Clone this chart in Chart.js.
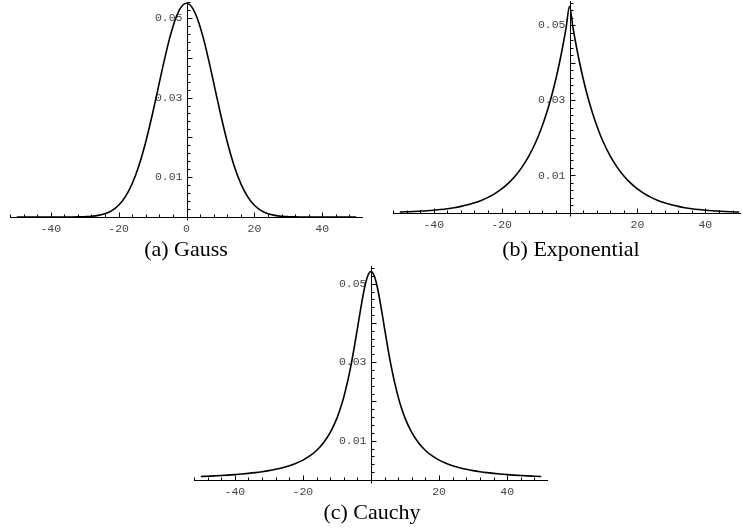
<!DOCTYPE html>
<html>
<head>
<meta charset="utf-8">
<script src="https://cdn.jsdelivr.net/npm/chart.js@4.4.0/dist/chart.umd.min.js"></script>
<style>
  body { margin: 0; width: 742px; height: 532px; position: relative; background: #fff; overflow: hidden; }
  canvas { position: absolute; }
  .cap { position: absolute; font: 22px "Liberation Serif", "Times New Roman", serif; line-height: 22px; white-space: nowrap; transform: translateX(-50%); color: #000; }
</style>
</head>
<body>
<canvas id="gauss" width="371" height="240" style="left:0;top:0"></canvas>
<canvas id="expo" width="371" height="240" style="left:371px;top:0"></canvas>
<canvas id="cauchy" width="380" height="240" style="left:180px;top:260px"></canvas>
<div class="cap" style="left:186px;top:238px">(a) Gauss</div>
<div class="cap" style="left:571px;top:238px">(b) Exponential</div>
<div class="cap" style="left:372px;top:501px">(c) Cauchy</div>
<script>
// sample positions (denser near the peak)
const xs = [-50, -48, -46, -44, -42, -40, -38, -36, -34, -32, -30, -28, -26, -24, -22, -20, -18, -16, -14, -12, -10,
  -9, -8, -7, -6, -5, -4, -3, -2, -1, 0, 1, 2, 3, 4, 5, 6, 7, 8, 9,
  10, 12, 14, 16, 18, 20, 22, 24, 26, 28, 30, 32, 34, 36, 38, 40, 42, 44, 46, 48, 50];

// values
const gaussY = [0, 0, 0, 0, 0, 0, 0, 0, 0.00001, 0.00003, 0.00008, 0.00018, 0.0004, 0.00082, 0.0016, 0.00295, 0.00512, 0.00838, 0.01295, 0.01889, 0.02599,
  0.02983, 0.03375, 0.03763, 0.04135, 0.04479, 0.04781, 0.05031, 0.05216, 0.05331, 0.0537, 0.05331, 0.05216, 0.05031, 0.04781, 0.04479, 0.04135, 0.03763, 0.03375, 0.02983,
  0.02599, 0.01889, 0.01295, 0.00838, 0.00512, 0.00295, 0.0016, 0.00082, 0.0004, 0.00018, 0.00008, 0.00003, 0.00001, 0, 0, 0, 0, 0, 0, 0, 0];

const expY = [0.00025, 0.00032, 0.00039, 0.00049, 0.0006, 0.00075, 0.00093, 0.00115, 0.00142, 0.00176, 0.00219, 0.00271, 0.00336, 0.00417, 0.00517, 0.00641, 0.00796, 0.00987, 0.01223, 0.01517, 0.0188,
  0.02094, 0.02331, 0.02596, 0.02891, 0.03218, 0.03584, 0.0399, 0.04444, 0.04949, 0.0551, 0.04949, 0.04444, 0.0399, 0.03584, 0.03218, 0.02891, 0.02596, 0.02331, 0.02094,
  0.0188, 0.01517, 0.01223, 0.00987, 0.00796, 0.00641, 0.00517, 0.00417, 0.00336, 0.00271, 0.00219, 0.00176, 0.00142, 0.00115, 0.00093, 0.00075, 0.0006, 0.00049, 0.00039, 0.00032, 0.00025];

const cauchyY = [0.00088, 0.00096, 0.00104, 0.00113, 0.00124, 0.00137, 0.00151, 0.00168, 0.00187, 0.0021, 0.00238, 0.00272, 0.00312, 0.00363, 0.00426, 0.00507, 0.00613, 0.00752, 0.00942, 0.01205, 0.01577,
  0.0182, 0.02111, 0.02459, 0.02867, 0.03336, 0.03851, 0.04377, 0.04851, 0.05187, 0.0531, 0.05187, 0.04851, 0.04377, 0.03851, 0.03336, 0.02867, 0.02459, 0.02111, 0.0182,
  0.01577, 0.01205, 0.00942, 0.00752, 0.00613, 0.00507, 0.00426, 0.00363, 0.00312, 0.00272, 0.00238, 0.0021, 0.00187, 0.00168, 0.00151, 0.00137, 0.00124, 0.00113, 0.00104, 0.00096, 0.00088];

const xTickLabels = [-40, -20, 0, 20, 40];
const yTickLabels = [0.01, 0.03, 0.05];

// Mathematica-style axes crossing at the origin
const originAxes = {
  id: "originAxes",
  beforeDatasetsDraw(chart, args, opts) {
    const { ctx, chartArea: a } = chart;
    const sx = chart.scales.x, sy = chart.scales.y;
    const x0 = Math.round(sx.getPixelForValue(0)) + 0.5;
    const y0 = Math.round(sy.getPixelForValue(0)) + 0.5;

    ctx.save();
    ctx.strokeStyle = "#000";
    ctx.lineWidth = 1;
    ctx.beginPath();
    ctx.moveTo(a.left, y0);
    ctx.lineTo(a.right, y0);
    ctx.moveTo(x0, a.top);
    ctx.lineTo(x0, y0 + 3);

    for (let v = -52; v <= 52; v += 4) {
      if (v === 0) continue;
      const px = Math.round(sx.getPixelForValue(v)) + 0.5;
      if (px < a.left || px > a.right) continue;
      const len = v % 20 === 0 ? 5 : 3;
      ctx.moveTo(px, y0);
      ctx.lineTo(px, y0 - len);
    }
    for (let k = 1; k * 0.002 <= sy.max; k++) {
      const py = Math.round(sy.getPixelForValue(k * 0.002)) + 0.5;
      const len = k % 5 === 0 ? 5 : 3;
      ctx.moveTo(x0, py);
      ctx.lineTo(x0 + len, py);
    }
    ctx.stroke();

    ctx.font = '11.5px "Liberation Mono", "Courier New", monospace';
    ctx.fillStyle = "#444";
    ctx.textAlign = "center";
    ctx.textBaseline = "middle";
    xTickLabels.forEach(v => {
      if (v === 0 && !opts.showZero) return;
      ctx.fillText(String(v), sx.getPixelForValue(v), y0 + 11);
    });
    ctx.textAlign = "right";
    yTickLabels.forEach(v => {
      ctx.fillText(v.toFixed(2), x0 - 5, sy.getPixelForValue(v));
    });
    ctx.restore();
  }
};

function makePlot(id, ys, xMin, xMax, yMax, pad, showZero) {
  return new Chart(document.getElementById(id), {
    type: "line",
    data: {
      datasets: [{
        data: xs.map((x, i) => ({ x: x, y: ys[i] })),
        borderColor: "#000",
        borderWidth: 1.6,
        pointRadius: 0,
        fill: false,
        cubicInterpolationMode: "monotone"
      }]
    },
    options: {
      responsive: false,
      animation: false,
      devicePixelRatio: 1,
      layout: { padding: pad },
      scales: {
        x: { type: "linear", min: xMin, max: xMax, display: false },
        y: { type: "linear", min: 0, max: yMax, display: false }
      },
      plugins: {
        legend: { display: false },
        tooltip: { enabled: false },
        originAxes: { showZero: showZero }
      }
    },
    plugins: [originAxes]
  });
}

makePlot("gauss", gaussY, -52, 52, 0.054, { left: 10, right: 8, top: 2, bottom: 23 }, true);
makePlot("expo", expY, -52, 50.5, 0.0565, { left: 22, right: 1, top: 1, bottom: 27 }, false);
makePlot("cauchy", cauchyY, -52, 52, 0.0545, { left: 14, right: 12, top: 6, bottom: 20 }, false);
</script>
</body>
</html>
